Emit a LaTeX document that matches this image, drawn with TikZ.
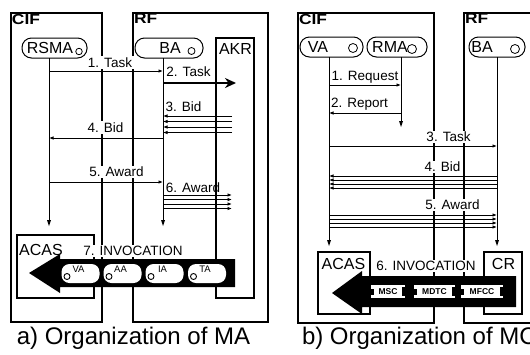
\documentclass[tikz,border=0pt]{standalone}
\usepackage{fontspec}
\setmainfont{Liberation Sans}
\usetikzlibrary{arrows.meta,calc}
\begin{document}
\begin{tikzpicture}[x=1pt,y=-1pt,
  font=\fontsize{13.5}{14}\selectfont,
  every node/.style={inner sep=0pt, outer sep=0pt},
  boxfr/.style={draw, line width=1.2pt, anchor=north west},
  pill/.style={draw, line width=1pt, rounded corners=9.5pt, minimum height=20pt},
  ntext/.style={font=\fontsize{16}{16}\selectfont},
  ftitle/.style={font=\fontsize{14.5}{15}\selectfont\bfseries, anchor=north west},
  port/.style={draw, circle, line width=0.8pt, minimum size=7pt},
  lbl/.style={fill=white, inner sep=1.5pt},
  msg/.style={line width=0.9pt, -{Latex[length=4.5pt,width=3.5pt]}},
  life/.style={line width=1pt},
  wpill/.style={fill=white, rounded corners=8pt, minimum width=38pt, minimum height=19pt},
  subl/.style={font=\fontsize{9.5}{10}\selectfont},
  comp/.style={fill=white, minimum height=13pt, font=\fontsize{8.5}{9}\selectfont\bfseries},
  capt/.style={font=\fontsize{24}{26}\selectfont},
]
\useasboundingbox (0,0) rectangle (530,354);
\clip (0,0) rectangle (530,354);
\fill[white] (0,0) rectangle (530,354);

% ================= a) =================
\node[boxfr, minimum width=91pt, minimum height=309pt] (cifa) at (11,13) {};
\node[boxfr, minimum width=135pt, minimum height=309pt] (rfa) at (133,13) {};
\node[boxfr, minimum width=38pt, minimum height=260pt] (akr) at (216,38) {};
\node[boxfr, minimum width=77pt, minimum height=63pt] (acasa) at (17,235) {};
\node[ftitle] (ciflA) at (12,14) {\scalebox{1.2}[1]{CIF}};
\node[ftitle] (rflA) at (134,14) {\scalebox{1.2}[1]{RF}};
\node[ntext] (akrl) at (235.5,48.5) {AKR};
\node[ntext] (acasla) at (41,250) {ACAS};

\node[pill, minimum width=65pt] (rsma) at (54.5,48) {};
\node[ntext] (rsmat) at (50,48) {RSMA};
\node[port, minimum size=6.5pt] (rsmac) at (79,51.5) {};
\node[pill, minimum width=68pt] (baa) at (169,48) {};
\node[ntext] (baat) at (170,48) {BA};
\node[port] (baac) at (191.5,51) {};

\coordinate (xr) at (49,0);
\coordinate (xb) at (163,0);
\coordinate (xk) at (232,0);
\draw[life] (rsma.south -| xr) -- (xr |- 0,224);
\draw[life] (baa.south -| xb) -- (xb |- 0,224);
\fill (xr |- 0,226) -- ++(-2,-6) -- ++(4,0) -- cycle;
\fill (xb |- 0,226) -- ++(-2,-6) -- ++(4,0) -- cycle;

% messages a
\draw[msg] (xr |- 0,71) -- (xb |- 0,71);
\draw[line width=2.8pt, -{Stealth[length=11pt,width=10pt]}] (xb |- 0,83) -- (236,83);
\foreach \yy in {116,121.5,127,132.5} \draw[msg] (xk |- 0,\yy) -- (xb |- 0,\yy);
\draw[msg] (xb |- 0,138) -- (xr |- 0,138);
\draw[msg] (xr |- 0,182) -- (xb |- 0,182);
\foreach \yy in {195,199.5,204,208.5} \draw[msg] (xb |- 0,\yy) -- (xk |- 0,\yy);

\node[lbl] (l1a) at (110,62.5) {1. Task};
\node (l2a) at (188.5,72) {2. Task};
\node (l3a) at (183.5,107) {3. Bid};
\node[lbl] (l4a) at (105.5,127.5) {4. Bid};
\node[lbl] (l5a) at (116.5,172) {5. Award};
\node (l6a) at (193,188) {6. Award};
\node[lbl] (l7a) at (133,251) {7. INVOCATION};

% big arrow a
\fill (29,273) -- (60,254) -- (60,259) -- (235,259) -- (235,287) -- (60,287) -- (60,293) -- cycle;
\foreach \cx/\nm/\tx in {80.5/pva/VA,122.5/paa/AA,164.5/pia/IA,207/pta/TA}{
  \node[wpill] (\nm) at (\cx,273.5) {};
  \node[subl] (\nm t) at ($(\nm)+(-2,-4)$) {\tx};
  \draw[line width=0.9pt] ($(\nm)+(-13.5,3)$) circle (3pt);
}

% ================= b) =================
\node[boxfr, minimum width=136pt, minimum height=310pt] (cifb) at (298,13) {};
\node[boxfr, minimum width=80pt, minimum height=310pt] (rfb) at (464,13) {};
\node[boxfr, minimum width=52pt, minimum height=62pt] (acasb) at (318,252) {};
\node[boxfr, minimum width=38pt, minimum height=62pt] (crb) at (484,252) {};
\node[ftitle] (ciflB) at (299,14) {\scalebox{1.2}[1]{CIF}};
\node[ftitle] (rflB) at (465,14) {\scalebox{1.2}[1]{RF}};
\node[ntext] (acaslb) at (343.5,264) {ACAS};
\node[ntext] (crl) at (503.5,264) {CR};

\node[pill, minimum width=63pt] (vab) at (331.5,47) {};
\node[ntext] (vabt) at (318,47) {VA};
\node[port, minimum size=9pt] (vabc) at (353,48) {};
\node[pill, minimum width=60pt] (rmab) at (397,47) {};
\node[ntext] (rmabt) at (390,47) {RMA};
\node[port, minimum size=9pt] (rmabc) at (412,49) {};
\node[pill, minimum width=56pt] (bab) at (497,47) {};
\node[ntext] (babt) at (482,47) {BA};
\node[port, minimum size=9pt] (babc) at (515,49) {};

\coordinate (xv) at (329,0);
\coordinate (xm) at (401,0);
\coordinate (xbb) at (497,0);
\draw[life] (vab.south -| xv) -- (xv |- 0,244);
\draw[life] (rmab.south -| xm) -- (xm |- 0,125);
\draw[life] (bab.south) -- (xbb |- 0,244);
\fill (xv |- 0,246) -- ++(-2,-6) -- ++(4,0) -- cycle;
\fill (xm |- 0,127) -- ++(-2,-6) -- ++(4,0) -- cycle;
\fill (xbb |- 0,246) -- ++(-2,-6) -- ++(4,0) -- cycle;

\draw[msg] (xv |- 0,85) -- (xm |- 0,85);
\draw[msg] (xm |- 0,113) -- (xv |- 0,113);
\draw[msg] (xv |- 0,146) -- (xbb |- 0,146);
\foreach \yy in {176,180,184,188} \draw[msg] (xbb |- 0,\yy) -- (xv |- 0,\yy);
\foreach \yy in {215,219,223,227} \draw[msg] (xv |- 0,\yy) -- (xbb |- 0,\yy);

\node (l1b) at (365,77) {1. Request};
\node (l2b) at (359.5,104) {2. Report};
\node[lbl] (l3b) at (448.5,137) {3. Task};
\node[lbl] (l4b) at (442.5,167) {4. Bid};
\node[lbl] (l5b) at (452.5,205) {5. Award};
\node[lbl] (l6b) at (426,266) {6. INVOCATION};

% big arrow b
\fill (332,293) -- (362,271) -- (362,276) -- (516,276) -- (516,307) -- (362,307) -- (362,314) -- cycle;
\foreach \cx/\w/\nm/\tx in {388/34/cmsc/MSC,434.5/41/cmdtc/MDTC,482/42/cmfcc/MFCC}{
  \node[comp, minimum width=\w pt] (\nm) at (\cx,291.5) {\tx};
  \fill ($(\nm.west)+(0,-3)$) rectangle ($(\nm.west)+(2.5,3)$);
  \fill ($(\nm.east)+(-3,-4.5)$) rectangle ($(\nm.east)+(0,4.5)$);
}

% captions
\node[capt] (capa) at (133.5,338) {a) Organization of MA};
\node[capt, anchor=west] (capb) at (302,338) {b) Organization of MC};
\end{tikzpicture}
\end{document}
